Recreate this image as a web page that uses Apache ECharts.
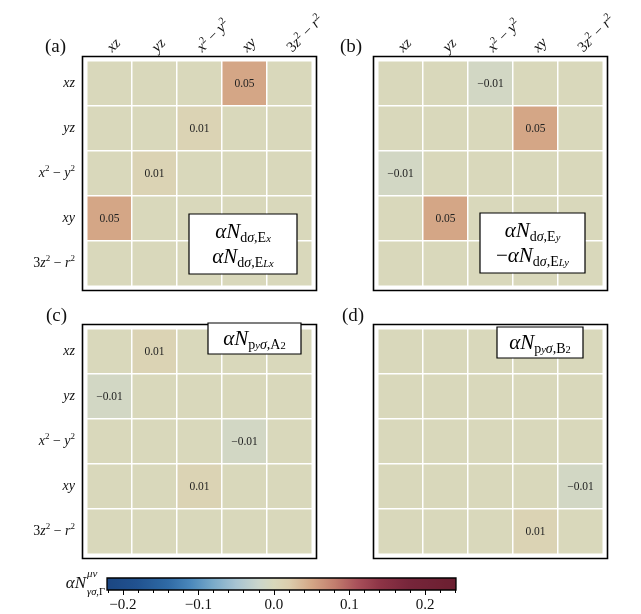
<!DOCTYPE html>
<html><head><meta charset="utf-8">
<script src="https://cdn.jsdelivr.net/npm/echarts@6/dist/echarts.min.js"></script>
<style>html,body{margin:0;padding:0;background:#fff}#c{width:641px;height:614px}</style>
</head><body><div id="c"></div>
<script>
// ---------- data ----------
const orbitals = ['xz', 'yz', 'x2-y2', 'xy', '3z2-r2'];
// rows (top to bottom) x columns (left to right)
const panelA = [[0,0,0,0.05,0],[0,0,0.01,0,0],[0,0.01,0,0,0],[0.05,0,0,0,0],[0,0,0,0,0]];
const panelB = [[0,0,-0.01,0,0],[0,0,0,0.05,0],[-0.01,0,0,0,0],[0,0.05,0,0,0],[0,0,0,0,0]];
const panelC = [[0,0.01,0,0,0],[-0.01,0,0,0,0],[0,0,0,-0.01,0],[0,0,0.01,0,0],[0,0,0,0,0]];
const panelD = [[0,0,0,0,0],[0,0,0,0,0],[0,0,0,0,0],[0,0,0,0,-0.01],[0,0,0,0.01,0]];
const panelLetters = ['(a)', '(b)', '(c)', '(d)'];
const cbarMin = -0.221, cbarMax = 0.241;
const cbarTicks = [-0.2, -0.1, 0, 0.1, 0.2];
const cbarMinorTicks = [-0.22,-0.18,-0.16,-0.14,-0.12,-0.08,-0.06,-0.04,-0.02,0.02,0.04,0.06,0.08,0.12,0.14,0.16,0.18,0.22,0.24];
// colormap anchor colours (value, colour)
const cmapStops = [[-0.221,'#1b4682'],[-0.18,'#215290'],[-0.14,'#2f6aa5'],[-0.11,'#4a88bb'],[-0.08,'#7aaac9'],
  [-0.05,'#a7c4d2'],[-0.02,'#cbd6cc'],[0,'#d9d8bb'],[0.02,'#dccdad'],[0.05,'#d4a686'],[0.08,'#c27e6e'],
  [0.11,'#a8505a'],[0.14,'#8d3446'],[0.18,'#76253a'],[0.241,'#6b1f30']];

// ---------- helpers ----------
const F = '"Liberation Serif", "DejaVu Serif", serif';
function hex2rgb(h){return [parseInt(h.slice(1,3),16),parseInt(h.slice(3,5),16),parseInt(h.slice(5,7),16)];}
function cmap(v){
  for(let i=0;i<cmapStops.length-1;i++){
    const [v0,c0]=cmapStops[i],[v1,c1]=cmapStops[i+1];
    if(v<=v1||i===cmapStops.length-2){
      const t=Math.max(0,Math.min(1,(v-v0)/(v1-v0)));
      const a=hex2rgb(c0),b=hex2rgb(c1);
      return 'rgb('+a.map((x,k)=>Math.round(x+(b[k]-x)*t)).join(',')+')';
    }
  }
}
const NS = 93;
const samples = [];
for(let i=0;i<NS;i++){samples.push(cmap(cbarMin+(cbarMax-cbarMin)*i/(NS-1)));}
const fmt = v => v.toFixed(2).replace('-', '\u2212');
const labelRich = {
  'xz':'{i|xz}', 'yz':'{i|yz}', 'x2-y2':'{i|x}{p|2}{o| \u2212 }{i|y}{p|2}', 'xy':'{i|xy}',
  '3z2-r2':'{o|3}{i|z}{p|2}{o| \u2212 }{i|r}{p|2}'
};
function richStyles(fs){
  return {
    i:{fontFamily:F,fontStyle:'italic',fontSize:fs,lineHeight:fs+4,color:'#111'},
    o:{fontFamily:F,fontSize:fs,lineHeight:fs+4,color:'#111'},
    p:{fontFamily:F,fontSize:fs-5,lineHeight:fs-5,verticalAlign:'top',color:'#111'}
  };
}

// ---------- layout ----------
const panels = [
  {data: panelA, left: 87,  top: 61,  xl: true,  yl: true},
  {data: panelB, left: 378, top: 61,  xl: true,  yl: false},
  {data: panelC, left: 87,  top: 329, xl: false, yl: true},
  {data: panelD, left: 378, top: 329, xl: false, yl: false}
];
const S = 225;
const grids = [], xAxes = [], yAxes = [], series = [], graphics = [];
panels.forEach((p, k) => {
  grids.push({left: p.left, top: p.top, width: S, height: S});
  xAxes.push({gridIndex:k, type:'category', data:orbitals, position:'top',
    axisLine:{show:false}, axisTick:{show:false}, splitLine:{show:false},
    axisLabel:{show:p.xl, rotate:-45, align:'left', verticalAlign:'middle', margin:11, interval:0, hideOverlap:false,
      formatter:v=>labelRich[v], rich:richStyles(15)}});
  yAxes.push({gridIndex:k, type:'category', data:orbitals, inverse:true,
    axisLine:{show:false}, axisTick:{show:false}, splitLine:{show:false},
    axisLabel:{show:p.yl, margin:12, interval:0, formatter:v=>labelRich[v], rich:richStyles(14)}});
  const d = [];
  p.data.forEach((row, r) => row.forEach((v, c) => d.push([c, r, v])));
  series.push({type:'heatmap', xAxisIndex:k, yAxisIndex:k, data:d,
    itemStyle:{borderColor:'#fff', borderWidth:1.5},
    label:{show:true, fontFamily:F, fontSize:11.5, color:'#222',
      formatter: q => q.value[2] === 0 ? '' : fmt(q.value[2])},
    emphasis:{disabled:true}});
  graphics.push({type:'rect', shape:{x:p.left-4.5, y:p.top-4.5, width:S+9, height:S+9},
    style:{fill:'none', stroke:'#000', lineWidth:1.6}, z:10});
});
// colorbar grid
grids.push({left:107, top:578, width:349, height:12, show:true,
  backgroundColor: new echarts.graphic.LinearGradient(0,0,1,0, samples.map((c,i)=>({offset:i/(NS-1), color:c}))),
  borderColor:'#000', borderWidth:1.3});
xAxes.push({gridIndex:4, type:'value', min:cbarMin, max:cbarMax, position:'bottom',
  axisLine:{show:false}, splitLine:{show:false},
  axisTick:{show:true, length:5, customValues:cbarTicks, lineStyle:{color:'#000', width:1}},
  axisLabel:{show:true, margin:8, customValues:cbarTicks, fontFamily:F, fontSize:15, color:'#111',
    formatter:v=>(Math.abs(v)<1e-9?'0.0':v.toFixed(1).replace('-', '\u2212'))}});
xAxes.push({gridIndex:4, type:'value', min:cbarMin, max:cbarMax, position:'bottom',
  axisLine:{show:false}, splitLine:{show:false}, axisLabel:{show:false},
  axisTick:{show:true, length:3, customValues:cbarMinorTicks, lineStyle:{color:'#000', width:1}}});
yAxes.push({gridIndex:4, type:'value', show:false, min:0, max:1});

// panel letters
const letterPos = [[45,47],[340,47],[46,316],[342,316]];
panelLetters.forEach((t,k)=>graphics.push({type:'text', x:letterPos[k][0], y:letterPos[k][1],
  style:{text:t, font:'19px '+F, fill:'#111', align:'left', verticalAlign:'middle'}}));

// annotation boxes
const annRich = {
  m:{fontFamily:F, fontStyle:'italic', fontSize:21, lineHeight:25, color:'#111'},
  mu:{fontFamily:F, fontSize:21, lineHeight:25, color:'#111'},
  s:{fontFamily:F, fontSize:14, lineHeight:15, verticalAlign:'bottom', color:'#111'},
  si:{fontFamily:F, fontStyle:'italic', fontSize:14, lineHeight:15, verticalAlign:'bottom', color:'#111'},
  ss:{fontFamily:F, fontStyle:'italic', fontSize:10.5, lineHeight:9, verticalAlign:'bottom', color:'#111'},
  sn:{fontFamily:F, fontSize:10.5, lineHeight:9, verticalAlign:'bottom', color:'#111'}
};
const anns = [
  {x:189, y:214, w:108, h:60, text:'{m|αN}{s|d}{si|σ}{s|,E}{ss|x}\n{m|αN}{s|d}{si|σ}{s|,E}{ss|Lx}'},
  {x:480, y:213, w:105, h:60, text:'{m|αN}{s|d}{si|σ}{s|,E}{ss|y}\n{mu|\u2212}{m|αN}{s|d}{si|σ}{s|,E}{ss|Ly}'},
  {x:208, y:323, w:93, h:31, text:'{m|αN}{s|p}{ss|y}{si|σ}{s|,A}{sn|2}'},
  {x:497, y:327, w:86, h:31, text:'{m|αN}{s|p}{ss|y}{si|σ}{s|,B}{sn|2}'}
];
anns.forEach(a=>{
  graphics.push({type:'rect', shape:{x:a.x, y:a.y, width:a.w, height:a.h},
    style:{fill:'#fff', stroke:'#000', lineWidth:1.2}, z:20});
  graphics.push({type:'text', x:a.x+a.w/2, y:a.y+a.h/2+1, z:21,
    style:{text:a.text, rich:annRich, align:'center', verticalAlign:'middle'}});
});
// colorbar label
graphics.push({type:'text', x:86, y:584, style:{text:'αN', font:'italic 17px '+F, fill:'#111', align:'right', verticalAlign:'middle'}});
graphics.push({type:'text', x:87, y:574, style:{text:'μν', font:'italic 11px '+F, fill:'#111', align:'left', verticalAlign:'middle'}});
graphics.push({type:'text', x:87, y:592, style:{text:'{si|γσ}{s|,Γ}', rich:{si:{fontFamily:F,fontStyle:'italic',fontSize:10.5,color:'#111'}, s:{fontFamily:F,fontSize:10.5,color:'#111'}}, align:'left', verticalAlign:'middle'}});

const chart = echarts.init(document.getElementById('c'));
chart.setOption({
  animation:false,
  backgroundColor:'#fff',
  grid:grids, xAxis:xAxes, yAxis:yAxes, series:series,
  visualMap:{type:'continuous', show:false, min:cbarMin, max:cbarMax, dimension:2,
    seriesIndex:[0,1,2,3], inRange:{color:samples}},
  graphic:graphics
});
</script></body></html>
